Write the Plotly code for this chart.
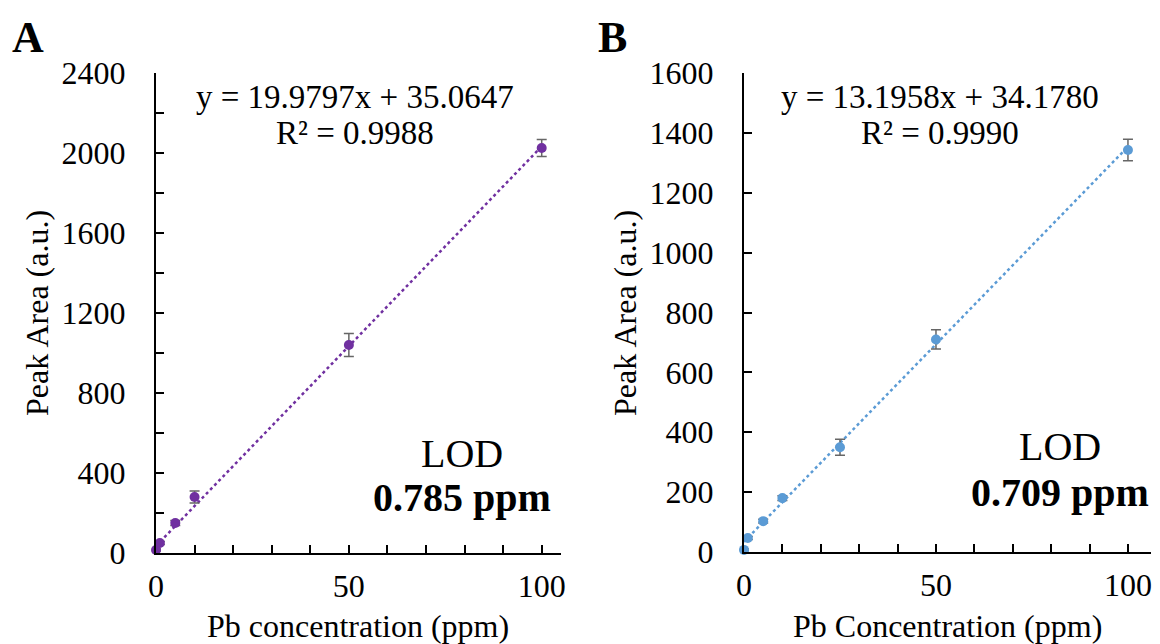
import plotly.graph_objects as go

# ---- Data ----
conc_a = [0, 1, 5, 10, 50, 100]
area_a = [15, 50, 150, 280, 1040, 2025]
err_a = [5, 8, 12, 30, 58, 42]

conc_b = [0, 1, 5, 10, 25, 50, 100]
area_b = [7, 47, 103, 180, 350, 710, 1343]
err_b = [3, 5, 6, 8, 27, 32, 36]

slope_a, intercept_a = 19.9797, 35.0647
slope_b, intercept_b = 13.1958, 34.1780

eq_a = ["y = 19.9797x + 35.0647", "R² = 0.9988"]
eq_b = ["y = 13.1958x + 34.1780", "R² = 0.9990"]
lod_a = "0.785 ppm"
lod_b = "0.709 ppm"

x_ticks = list(range(0, 101, 10))
x_ticktext = [str(v) if v % 50 == 0 else "" for v in x_ticks]
ya_ticks = list(range(0, 2401, 200))
ya_ticktext = [str(v) if v % 400 == 0 else "" for v in ya_ticks]
yb_ticks = list(range(0, 1601, 200))
yb_ticktext = [str(v) for v in yb_ticks]

purple = "#7030A0"
blue = "#5B9BD5"
errc = "#666666"
FONT = "Liberation Serif"

# The page places the plot 8px from the top-left corner (body margin)
OFF = 8
W, H = 1160 - OFF, 644 - OFF
fig = go.Figure()

fit_x = [min(conc_a), max(conc_a)]
fig.add_trace(go.Scatter(x=fit_x, y=[slope_a * v + intercept_a for v in fit_x],
                         mode="lines", line=dict(color=purple, width=2.5, dash="dot"),
                         xaxis="x", yaxis="y", showlegend=False, hoverinfo="skip"))
fig.add_trace(go.Scatter(x=conc_a, y=area_a, mode="markers",
                         marker=dict(color=purple, size=10),
                         error_y=dict(type="data", array=err_a, color=errc, thickness=1.5, width=5),
                         xaxis="x", yaxis="y", showlegend=False, cliponaxis=False))

fit_xb = [min(conc_b), max(conc_b)]
fig.add_trace(go.Scatter(x=fit_xb, y=[slope_b * v + intercept_b for v in fit_xb],
                         mode="lines", line=dict(color=blue, width=2.5, dash="dot"),
                         xaxis="x2", yaxis="y2", showlegend=False, hoverinfo="skip"))
fig.add_trace(go.Scatter(x=conc_b, y=area_b, mode="markers",
                         marker=dict(color=blue, size=10),
                         error_y=dict(type="data", array=err_b, color=errc, thickness=1.5, width=5),
                         xaxis="x2", yaxis="y2", showlegend=False, cliponaxis=False))

def px_x(p):
    return (p - OFF) / W

def px_y(p):
    return 1 - (p - OFF) / H

axis_common = dict(showgrid=False, zeroline=False, showline=True, linecolor="black",
                   linewidth=2, ticks="inside", ticklen=8, tickwidth=2, tickcolor="black",
                   tickfont=dict(family=FONT, size=32, color="black"), mirror=False,
                   automargin=False)

fig.update_layout(
    template="none",
    width=W, height=H, margin=dict(l=0, r=0, t=0, b=0, autoexpand=False),
    paper_bgcolor="white", plot_bgcolor="white",
    xaxis=dict(domain=[px_x(156), px_x(561)], range=[0, 105], anchor="y",
               tickvals=x_ticks, ticktext=x_ticktext, ticklabelstandoff=4, **axis_common),
    yaxis=dict(domain=[px_y(553), px_y(73)], range=[0, 2400], anchor="x",
               tickvals=ya_ticks, ticktext=ya_ticktext, ticklabelstandoff=22, **axis_common),
    xaxis2=dict(domain=[px_x(744), px_x(1151)], range=[0, 106], anchor="y2",
                tickvals=x_ticks, ticktext=x_ticktext, ticklabelstandoff=4, **axis_common),
    yaxis2=dict(domain=[px_y(552), px_y(73)], range=[0, 1600], anchor="x2",
                tickvals=yb_ticks, ticktext=yb_ticktext, ticklabelstandoff=22, **axis_common),
)

def ann(x, y, text, size, bold=False, angle=0):
    fig.add_annotation(x=px_x(x), y=px_y(y), xref="paper", yref="paper",
                       text=f"<b>{text}</b>" if bold else text, showarrow=False,
                       textangle=angle, xanchor="center", yanchor="middle",
                       font=dict(family=FONT, size=size, color="black"))

ann(28, 37, "A", 44, bold=True)
ann(612, 37, "B", 44, bold=True)
ann(355, 97, eq_a[0], 33)
ann(355, 133, eq_a[1], 33)
ann(940, 97, eq_b[0], 33)
ann(940, 133, eq_b[1], 33)
ann(462, 453, "LOD", 40)
ann(462, 497, lod_a, 40, bold=True)
ann(1060, 446, "LOD", 40)
ann(1060, 492, lod_b, 40, bold=True)
ann(37, 313, "Peak Area (a.u.)", 32, angle=-90)
ann(625, 313, "Peak Area (a.u.)", 32, angle=-90)
ann(358, 626, "Pb concentration (ppm)", 32)
ann(947, 626, "Pb Concentration (ppm)", 32)

fig.write_html("out.html")
